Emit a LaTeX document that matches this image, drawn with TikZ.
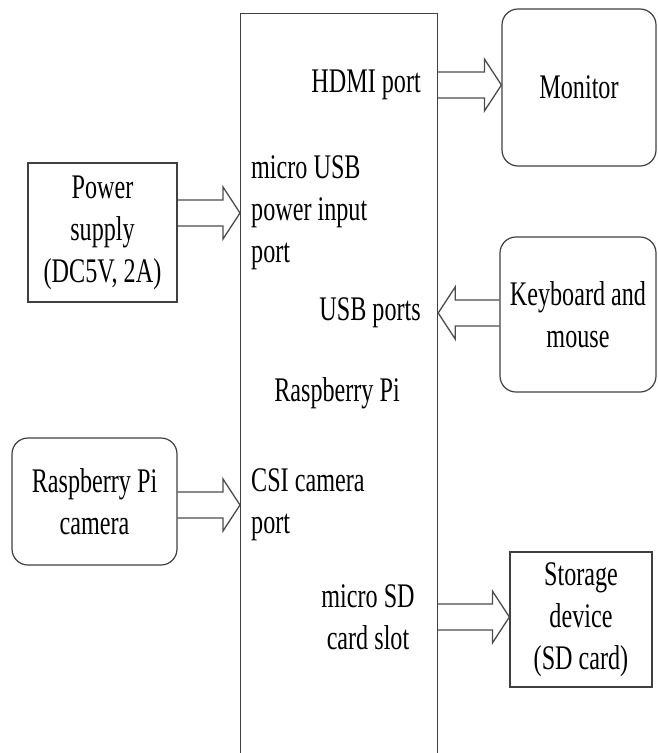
\documentclass[tikz,border=0pt]{standalone}
\usepackage{fontspec}
\setmainfont{Liberation Serif}[FakeStretch=0.7]
\usetikzlibrary{calc}
\usetikzlibrary{positioning}

\tikzset{
 box/.style={draw=black!75, line width=1.2pt, inner sep=0pt, align=center},
 roundbox/.style={box, rounded corners=16pt},
 port/.style={inner sep=0pt},
 arrowline/.style={draw=black!70, line width=1.3pt},
 blockarrow/.style={to path={
   let \p1=(\tikztostart), \p2=(\tikztotarget), \n1={sign(\x2-\x1)} in
   (\x1,\y1+13pt) -- (\x2-\n1*17pt,\y1+13pt) -- (\x2-\n1*17pt,\y1+26pt) -- (\x2,\y1)
   -- (\x2-\n1*17pt,\y1-26pt) -- (\x2-\n1*17pt,\y1-13pt) -- (\x1,\y1-13pt)}}
}

\begin{document}
\begin{tikzpicture}[x=1pt, y=-1pt, every node/.style={font=\fontsize{34.5}{42}\selectfont}]
\useasboundingbox (0,0) rectangle (657,753);
\clip (0,0) rectangle (657,753);

% the board, open at the bottom
\node[box, minimum width=197pt, minimum height=800pt, anchor=north west] (main) at (240,13) {};
\node[port, anchor=east] (hdmi) at (421,85) {HDMI port};
\node[port, align=left, anchor=west] (usbpwr) at (251,213) {micro USB\\power input\\port};
\node[port, anchor=east] (usb) at (421,313) {USB ports};
\node[port] (rpi) at (337,393) {Raspberry Pi};
\node[port, align=left, anchor=west] (csi) at (251,505) {CSI camera\\port};
\node[port, align=center] (sd) at (368,617) {micro SD\\card slot};

% devices
\node[roundbox, minimum width=154pt, minimum height=157pt] (monitor) at (579,87.5) {Monitor};
\node[box, minimum width=149pt, minimum height=139pt] (power) at (102.5,232.5) {Power\\supply\\(DC5V, 2A)};
\node[roundbox, minimum width=156pt, minimum height=155pt] (keyboard) at (578,314.5) {Keyboard and\\mouse};
\node[roundbox, minimum width=165pt, minimum height=127pt] (camera) at (94.5,501.5) {Raspberry Pi\\camera};
\node[box, minimum width=142pt, minimum height=135pt] (storage) at (581,619.5) {Storage\\device\\(SD card)};

\draw[arrowline] (main.east |- hdmi) to[blockarrow] (monitor.west |- hdmi);
\draw[arrowline] (power.east |- usbpwr) to[blockarrow] (main.west |- usbpwr);
\draw[arrowline] (keyboard.west |- usb) to[blockarrow] (main.east |- usb);
\draw[arrowline] (camera.east |- csi) to[blockarrow] (main.west |- csi);
\draw[arrowline] (main.east |- sd) to[blockarrow] (storage.west |- sd);
\end{tikzpicture}
\end{document}
